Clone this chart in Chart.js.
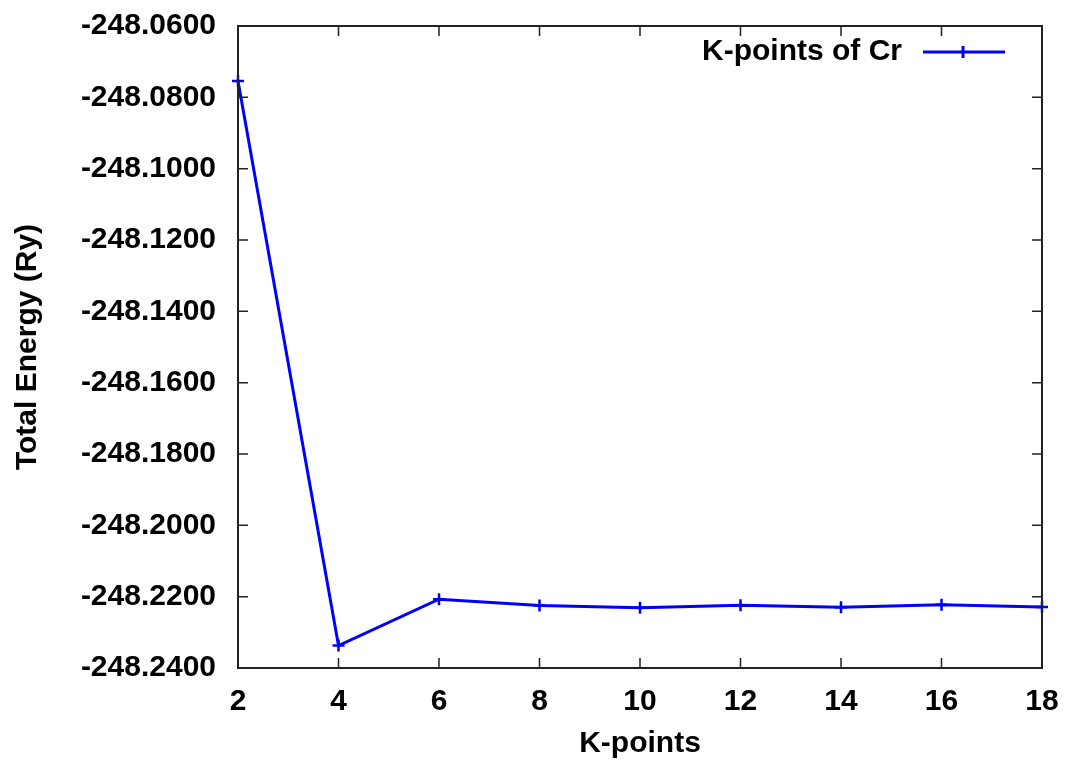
<!DOCTYPE html>
<html>
<head>
<meta charset="utf-8">
<script src="https://cdn.jsdelivr.net/npm/chart.js"></script>
<style>
  html, body { margin: 0; padding: 0; background: #fff; }
  #wrap { width: 1067px; height: 762px; }
</style>
</head>
<body>
<div id="wrap"><canvas id="chart" width="1067" height="762"></canvas></div>
<script>
// values
const kpoints = [2, 4, 6, 8, 10, 12, 14, 16, 18];
const energy = [-248.0754, -248.2337, -248.2207, -248.2225, -248.2231, -248.2224, -248.2230, -248.2223, -248.2229];
const seriesLabel = 'K-points of Cr';
const xTitle = 'K-points';
const yTitle = 'Total Energy (Ry)';

const FONT = '"Liberation Sans", Arial, sans-serif';
const BLUE = '#0000ff';

// gnuplot style frame with inward ticks on all four sides
const framePlugin = {
  id: 'frame',
  afterDatasetsDraw(chart) {
    const { ctx, chartArea: a } = chart;
    const xs = chart.scales.x, ys = chart.scales.y;
    const len = 10;
    ctx.save();
    ctx.strokeStyle = '#222';
    ctx.lineWidth = 1.5;
    ctx.beginPath();
    xs.ticks.forEach(t => {
      const px = xs.getPixelForValue(t.value);
      ctx.moveTo(px, a.bottom); ctx.lineTo(px, a.bottom - len);
      ctx.moveTo(px, a.top); ctx.lineTo(px, a.top + len);
    });
    ys.ticks.forEach(t => {
      const py = ys.getPixelForValue(t.value);
      ctx.moveTo(a.left, py); ctx.lineTo(a.left + len, py);
      ctx.moveTo(a.right, py); ctx.lineTo(a.right - len, py);
    });
    ctx.stroke();
    ctx.lineWidth = 2;
    ctx.strokeRect(a.left, a.top, a.right - a.left, a.bottom - a.top);

    // legend: text right-aligned, then a line sample with a cross
    const ly = 52;
    ctx.fillStyle = '#000';
    ctx.font = 'bold 30px ' + FONT;
    ctx.textAlign = 'right';
    ctx.textBaseline = 'middle';
    ctx.fillText(seriesLabel, 902, ly);
    ctx.strokeStyle = BLUE;
    ctx.lineWidth = 3;
    ctx.beginPath();
    ctx.moveTo(923, ly); ctx.lineTo(1005, ly);
    ctx.moveTo(963, ly - 6); ctx.lineTo(963, ly + 6);
    ctx.stroke();
    ctx.restore();
  }
};

new Chart(document.getElementById('chart'), {
  type: 'line',
  data: {
    datasets: [{
      label: seriesLabel,
      data: kpoints.map((k, i) => ({ x: k, y: energy[i] })),
      borderColor: BLUE,
      backgroundColor: BLUE,
      borderWidth: 3,
      pointStyle: 'cross',
      pointRadius: 6,
      pointBorderWidth: 2.5,
      tension: 0,
      clip: false
    }]
  },
  options: {
    responsive: false,
    animation: false,
    layout: { padding: { top: 26, right: 25, left: 0, bottom: 0 } },
    plugins: { legend: { display: false }, tooltip: { enabled: false } },
    scales: {
      x: {
        type: 'linear',
        min: 2, max: 18,
        grid: { display: false, drawTicks: false },
        border: { display: false },
        ticks: {
          stepSize: 2,
          padding: 16,
          color: '#000',
          font: { family: FONT, size: 30, weight: 'bold' },
          maxRotation: 0
        },
        title: {
          display: true,
          text: xTitle,
          color: '#000',
          font: { family: FONT, size: 30, weight: 'bold' },
          padding: { top: 0, bottom: 0 }
        },
        afterFit(scale) {
          scale.height = 94;
          scale.paddingLeft = 0; scale.paddingRight = 0;
        }
      },
      y: {
        min: -248.24, max: -248.06,
        grid: { display: false, drawTicks: false },
        border: { display: false },
        ticks: {
          stepSize: 0.02,
          padding: 22,
          color: '#000',
          font: { family: FONT, size: 30, weight: 'bold' },
          callback: v => Number(v).toFixed(4)
        },
        title: {
          display: true,
          text: yTitle,
          color: '#000',
          font: { family: FONT, size: 30, weight: 'bold' },
          padding: { top: 10, bottom: 0 }
        },
        afterFit(scale) {
          scale.width = 238;
          scale.paddingTop = 0; scale.paddingBottom = 0;
        }
      }
    }
  },
  plugins: [framePlugin]
});
</script>
</body>
</html>
